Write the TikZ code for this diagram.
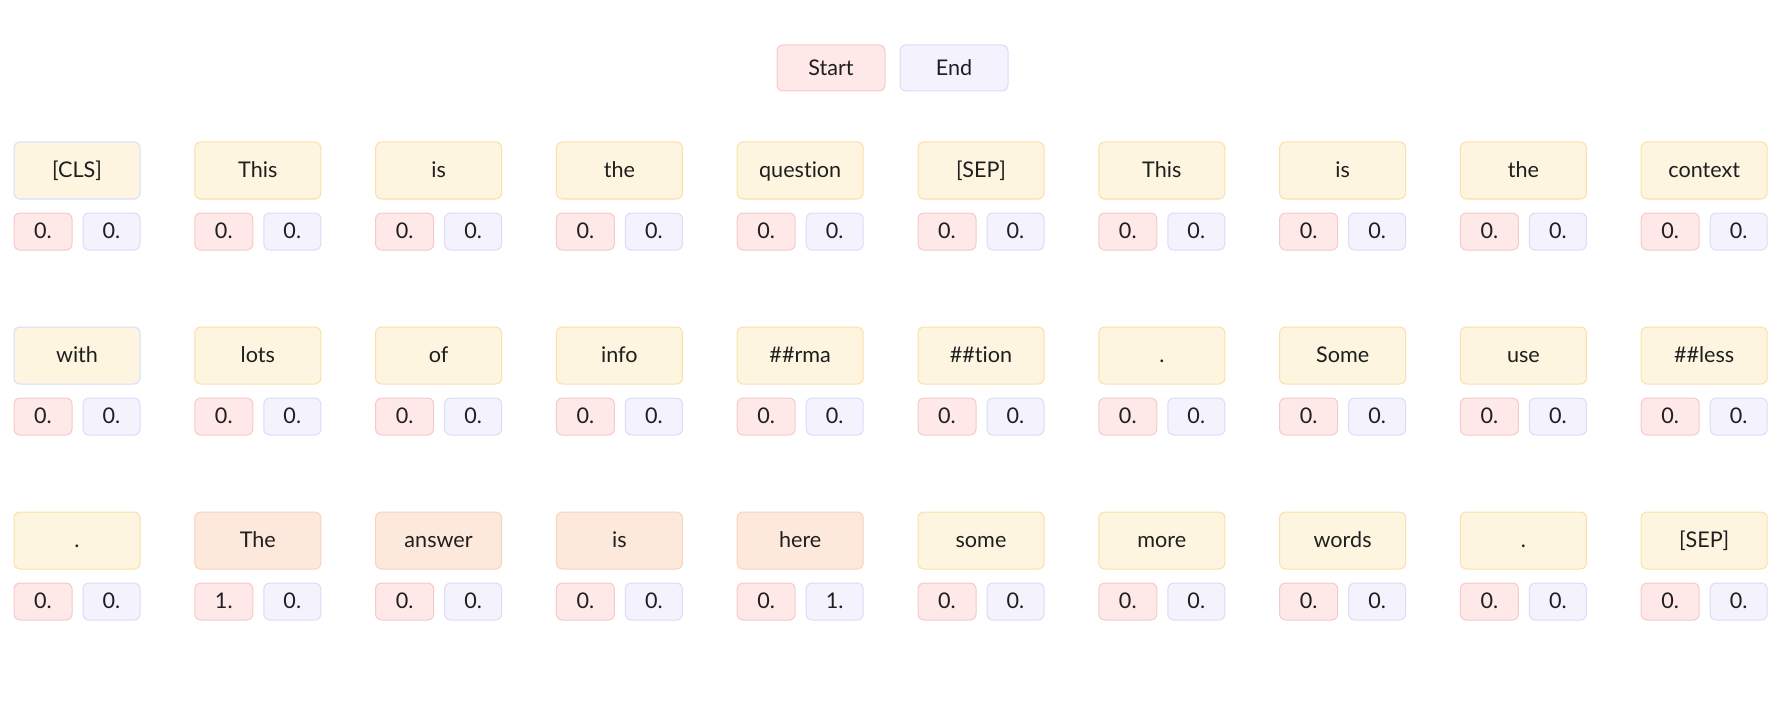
\documentclass[tikz,border=0pt]{standalone}
\usepackage{fontspec}
\setmainfont[Ligatures={NoCommon}]{Lato}
\definecolor{tokfill}{HTML}{FEF5E0}
\definecolor{tokdraw}{HTML}{FCDFA8}
\definecolor{ansfill}{HTML}{FDE9DC}
\definecolor{ansdraw}{HTML}{F9D2B8}
\definecolor{stfill}{HTML}{FEE8E8}
\definecolor{stdraw}{HTML}{F6C9C9}
\definecolor{enfill}{HTML}{F4F2FD}
\definecolor{endraw}{HTML}{D9DCFA}
\tikzset{
  box/.style={rounded corners=3pt, line width=0.5pt, inner sep=0pt,
    font=\fontsize{10.8}{12}\selectfont, text=black!88,
    text height=0.72em, text depth=0pt},
  tok/.style={box, fill=tokfill, draw=tokdraw, minimum width=63pt, minimum height=28.5pt},
  tokb/.style={tok, draw=endraw},
  ans/.style={tok, fill=ansfill, draw=ansdraw},
  stbox/.style={box, fill=stfill, draw=stdraw, minimum width=29pt, minimum height=18.5pt},
  enbox/.style={box, fill=enfill, draw=endraw, minimum width=28.5pt, minimum height=18.5pt},
  legst/.style={box, fill=stfill, draw=stdraw, minimum width=54pt, minimum height=23pt},
  legen/.style={box, fill=enfill, draw=endraw, minimum width=54pt, minimum height=23pt}
}
\begin{document}
\begin{tikzpicture}[x=0.5pt,y=-0.5pt]
\useasboundingbox (0,0) rectangle (1784,706);
\node[legst] (legstart) at (831,68) {Start};
\node[legen] (legend) at (954,68) {End};
% row 0
\foreach \t/\k/\s/\e [count=\i from 0] in {
  {[CLS]}/tokb/0./0., This/tok/0./0., is/tok/0./0., the/tok/0./0., question/tok/0./0.,
  {[SEP]}/tok/0./0., This/tok/0./0., is/tok/0./0., the/tok/0./0., context/tok/0./0.}{
  \node[\k] (t0-\i) at ({77+180.8*\i},170.5) {\t};
  \node[stbox] (s0-\i) at ({43+180.8*\i},231.5) {\s};
  \node[enbox] (e0-\i) at ({111.5+180.8*\i},231.5) {\e};
}
% row 1
\foreach \t/\k/\s/\e [count=\i from 0] in {
  with/tokb/0./0., lots/tok/0./0., of/tok/0./0., info/tok/0./0., \#\#rma/tok/0./0.,
  \#\#tion/tok/0./0., ./tok/0./0., Some/tok/0./0., use/tok/0./0., \#\#less/tok/0./0.}{
  \node[\k] (t1-\i) at ({77+180.8*\i},355.5) {\t};
  \node[stbox] (s1-\i) at ({43+180.8*\i},416.5) {\s};
  \node[enbox] (e1-\i) at ({111.5+180.8*\i},416.5) {\e};
}
% row 2
\foreach \t/\k/\s/\e [count=\i from 0] in {
  ./tok/0./0., The/ans/1./0., answer/ans/0./0., is/ans/0./0., here/ans/0./1.,
  some/tok/0./0., more/tok/0./0., words/tok/0./0., ./tok/0./0., {[SEP]}/tok/0./0.}{
  \node[\k] (t2-\i) at ({77+180.8*\i},540.5) {\t};
  \node[stbox] (s2-\i) at ({43+180.8*\i},601.5) {\s};
  \node[enbox] (e2-\i) at ({111.5+180.8*\i},601.5) {\e};
}
\end{tikzpicture}
\end{document}
